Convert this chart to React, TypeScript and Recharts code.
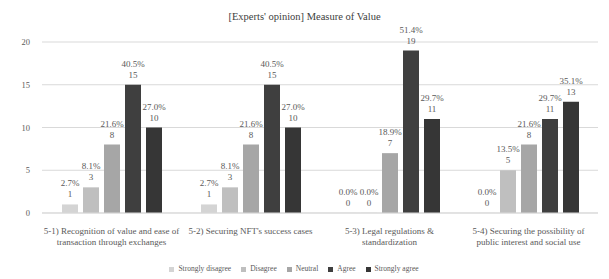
import React from 'react';
import { BarChart, Bar, XAxis, YAxis, CartesianGrid, Legend, LabelList } from 'recharts';

const categories = [
  ['5-1) Recognition of value and ease of', 'transaction through exchanges'],
  ["5-2) Securing NFT's success cases"],
  ['5-3) Legal regulations &', 'standardization'],
  ['5-4) Securing the possibility of', 'public interest and social use'],
];

const stronglyDisagree = [1, 1, 0, 0];
const disagree = [3, 3, 0, 5];
const neutral = [8, 8, 7, 8];
const agree = [15, 15, 19, 11];
const stronglyAgree = [10, 10, 11, 13];

const total = 37;
const yTicks = [0, 5, 10, 15, 20];

const seriesList = [
  { key: 'sd', name: 'Strongly disagree', values: stronglyDisagree, color: '#d4d4d4' },
  { key: 'd', name: 'Disagree', values: disagree, color: '#bfbfbf' },
  { key: 'n', name: 'Neutral', values: neutral, color: '#a6a6a6' },
  { key: 'a', name: 'Agree', values: agree, color: '#3f3f3f' },
  { key: 'sa', name: 'Strongly agree', values: stronglyAgree, color: '#363636' },
];

const data = categories.map((lines, i) => {
  const row: any = { idx: i };
  seriesList.forEach((s) => {
    row[s.key] = s.values[i];
  });
  return row;
});

const FONT = '"Liberation Serif", "DejaVu Serif", serif';

const CategoryTick = ({ x, y, payload }: any) => {
  const lines = categories[payload.value] || [];
  return (
    <text x={x} y={y + 13} textAnchor="middle" fontFamily={FONT} fontSize={9} fill="#595959">
      {lines.map((l, i) => (
        <tspan key={i} x={x} dy={i === 0 ? 0 : 11}>
          {l}
        </tspan>
      ))}
    </text>
  );
};

const ValueLabel = ({ x, y, width, value }: any) => {
  const cx = x + width / 2;
  const pct = ((value / total) * 100).toFixed(1) + '%';
  return (
    <text x={cx} textAnchor="middle" fontFamily={FONT} fontSize={9} fill="#595959">
      <tspan x={cx} y={y - 18}>{pct}</tspan>
      <tspan x={cx} y={y - 7}>{value}</tspan>
    </text>
  );
};

export default function App() {
  return (
    <div style={{ position: 'fixed', left: 0, top: 0, width: 609, height: 279, background: '#fff' }}>
      <div
        style={{
          position: 'absolute',
          top: 11,
          width: 609,
          textAlign: 'center',
          fontFamily: FONT,
          fontSize: 10.5,
          color: '#404040',
        }}
      >
        [Experts' opinion] Measure of Value
      </div>
      <BarChart
        width={609}
        height={279}
        data={data}
        margin={{ top: 42, right: 11, left: 0, bottom: 24 }}
        barCategoryGap="14%"
        barGap={5}
      >
        <CartesianGrid vertical={false} stroke="#d9d9d9" />
        <XAxis
          dataKey="idx"
          tick={<CategoryTick />}
          tickLine={false}
          axisLine={{ stroke: '#d9d9d9' }}
          interval={0}
          height={33}
        />
        <YAxis
          domain={[0, 20]}
          ticks={yTicks}
          width={42}
          tickLine={false}
          axisLine={false}
          tick={{ fontFamily: FONT, fontSize: 8.5, fill: '#595959' }}
          tickMargin={6}
        />
        <Legend
          verticalAlign="bottom"
          iconType="square"
          iconSize={5}
          itemSorter={null}
          formatter={(v: any) => <span style={{ color: '#595959' }}>{v}</span>}
          wrapperStyle={{ fontFamily: FONT, fontSize: 7.5, bottom: 6 }}
        />
        {seriesList.map((s) => (
          <Bar
            key={s.key}
            dataKey={s.key}
            name={s.name}
            fill={s.color}
            barSize={16}
            minPointSize={0.1}
            isAnimationActive={false}
          >
            <LabelList dataKey={s.key} content={<ValueLabel />} />
          </Bar>
        ))}
      </BarChart>
    </div>
  );
}
